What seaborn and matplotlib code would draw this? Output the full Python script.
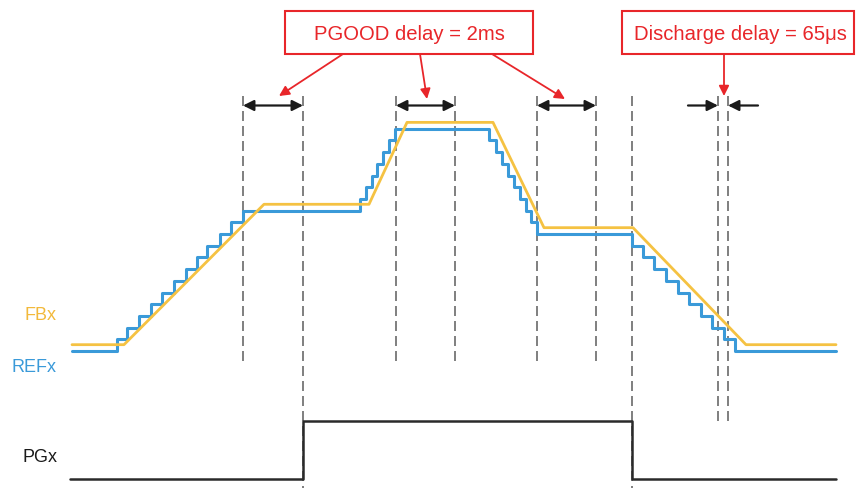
import matplotlib
matplotlib.use("Agg")
import matplotlib.pyplot as plt
import seaborn as sns
import pandas as pd
from matplotlib.patches import Rectangle

sns.set_theme(style="white")
plt.rcParams['font.family'] = ['Liberation Sans', 'DejaVu Sans']

# ---- data ----
# REFx: DAC staircase (step times, code after step)
ref_t = [72, 117, 127, 139, 151, 162, 174, 186, 197, 207, 220, 231, 243,
         360, 366, 372, 377, 383, 389, 395,
         489, 496, 502, 508, 514, 520, 526, 531, 537,
         632, 643, 654, 666, 678, 689, 701, 712, 724, 735, 836]
ref_code = [0, 1, 2, 3, 4, 5, 6, 7, 8, 9, 10, 11, 12,
            13, 14, 15, 16, 17, 18, 19,
            18, 17, 16, 15, 14, 13, 12, 11, 10,
            9, 8, 7, 6, 5, 4, 3, 2, 1, 0, 0]
# FBx: ramp corners
fb_t = [72, 124, 264, 369, 407, 493, 544, 633, 746, 836]
fb_code = [0.54, 0.54, 12.54, 12.54, 19.54, 19.54, 10.54, 10.54, 0.54, 0.54]
# PGx: logic level
pg_t = [70, 303, 632, 836]
pg_level = [0, 1, 0, 0]
# timing markers
marker_t = [243, 303, 396, 455, 537, 596, 632, 718, 728]
marker_end = [366, 489, 366, 366, 366, 366, 489, 422, 422]
delay_spans = [(243, 303), (396, 455), (537, 596)]
labels = ["FBx", "REFx", "PGx"]
pgood_text = "PGOOD delay = 2ms"
discharge_text = "Discharge delay = 65\u03bcs"

BLUE = "#3a9ad9"
YELLOW = "#f5c242"
RED = "#e8262a"

fig = plt.figure(figsize=(8.56, 4.89), dpi=100)

# pixel-space axes for annotations
ax = fig.add_axes([0, 0, 1, 1])
ax.set_xlim(0, 856)
ax.set_ylim(489, 0)
ax.axis("off")

# analog waveform axes (codes)
axw = fig.add_axes([0, 0, 1, 1], sharex=ax)
axw.set_ylim((352 - 489) / 11.7, 352 / 11.7)
axw.axis("off")
axw.patch.set_alpha(0)

# PGx axes
axp = fig.add_axes([0, 0, 1, 1], sharex=ax)
axp.set_ylim((480 - 489) / 58.0, 480 / 58.0)
axp.axis("off")
axp.patch.set_alpha(0)

ref_df = pd.DataFrame({"t": ref_t, "v": ref_code})
fb_df = pd.DataFrame({"t": fb_t, "v": fb_code})
pg_df = pd.DataFrame({"t": pg_t, "v": pg_level})

sns.lineplot(data=ref_df, x="t", y="v", ax=axw, estimator=None, sort=False,
             color=BLUE, lw=2.2, drawstyle="steps-post", zorder=3)
sns.lineplot(data=fb_df, x="t", y="v", ax=axw, estimator=None, sort=False,
             color=YELLOW, lw=2.0, zorder=4)
sns.lineplot(data=pg_df, x="t", y="v", ax=axp, estimator=None, sort=False,
             color="#2a2a2a", lw=1.8, drawstyle="steps-post", zorder=3)
for a in (axw, axp):
    a.set_xlabel("")
    a.set_ylabel("")
    a.axis("off")

# dashed markers
for x, yb in zip(marker_t, marker_end):
    ax.plot([x, x], [97, yb], color="#6a6a6a", lw=1.2,
            linestyle=(0, (6, 3)), zorder=2)

# double arrows
for x0, x1 in delay_spans:
    ax.annotate("", xy=(x1, 106.5), xytext=(x0, 106.5),
                arrowprops=dict(arrowstyle="<|-|>", color="#1a1a1a", lw=1.6,
                                mutation_scale=16, shrinkA=0, shrinkB=0))
ax.annotate("", xy=(718, 106.5), xytext=(688, 106.5),
            arrowprops=dict(arrowstyle="-|>", color="#1a1a1a", lw=1.6,
                            mutation_scale=16, shrinkA=0, shrinkB=0))
ax.annotate("", xy=(728, 106.5), xytext=(758, 106.5),
            arrowprops=dict(arrowstyle="-|>", color="#1a1a1a", lw=1.6,
                            mutation_scale=16, shrinkA=0, shrinkB=0))

# red callout boxes
ax.add_patch(Rectangle((285, 12), 248, 43, fill=True, facecolor="white",
                       edgecolor=RED, lw=1.5, zorder=5))
ax.text(409, 34, pgood_text, color=RED, fontsize=14.6, ha="center",
        va="center", zorder=6)
ax.add_patch(Rectangle((622, 12), 232, 43, fill=True, facecolor="white",
                       edgecolor=RED, lw=1.5, zorder=5))
ax.text(740, 34, discharge_text, color=RED, fontsize=14.6, ha="center",
        va="center", zorder=6)

# red arrows
for (x0, y0), (x1, y1) in [((343, 55), (279, 97)), ((420, 55), (427, 100)),
                           ((492, 55), (565, 100)), ((724, 55), (724, 97))]:
    ax.annotate("", xy=(x1, y1), xytext=(x0, y0),
                arrowprops=dict(arrowstyle="-|>", color=RED, lw=1.3,
                                mutation_scale=15, shrinkA=0, shrinkB=0))

# signal labels
ax.text(57, 316, labels[0], color="#f2b93b", fontsize=13, ha="right", va="center")
ax.text(57, 367, labels[1], color=BLUE, fontsize=13, ha="right", va="center")
ax.text(58, 457, labels[2], color="#1a1a1a", fontsize=13, ha="right", va="center")

fig.savefig("out.png", dpi=100)
